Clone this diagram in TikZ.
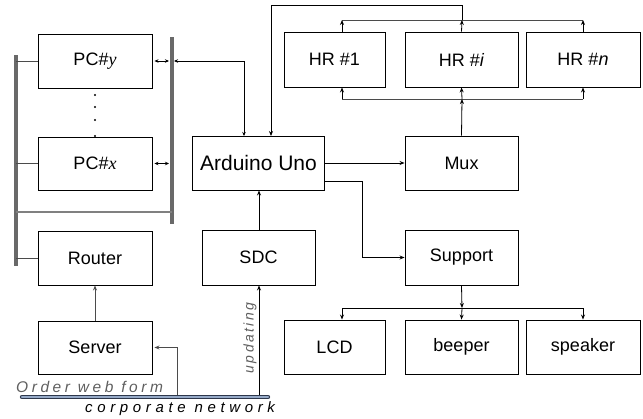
\documentclass[tikz,border=0pt]{standalone}
\usepackage{fontspec}
\setmainfont{Liberation Sans}
\newfontfamily\serifit{Liberation Serif}
\usetikzlibrary{arrows.meta}
\definecolor{busgray}{RGB}{105,105,105}
\definecolor{lngray}{RGB}{75,75,75}
\definecolor{netblue}{RGB}{150,170,200}
\definecolor{netdark}{RGB}{45,55,75}
\definecolor{txtgray}{RGB}{95,95,95}
\tikzset{
  box/.style={draw=black, line width=0.9pt, inner sep=0pt, font=\fontsize{18}{21}\selectfont},
  conn/.style={line width=0.8pt, black, -{Stealth[length=5pt,width=4pt]}},
  gconn/.style={line width=1pt, lngray, -{Stealth[length=5pt,width=4pt]}},
  dbl/.style={line width=0.8pt, black, {Stealth[length=4pt,width=3.5pt]}-{Stealth[length=4pt,width=3.5pt]}},
  bus/.style={line width=3.2pt, busgray},
  tap/.style={line width=1pt, lngray},
}
\begin{document}
\begin{tikzpicture}[x=1pt,y=-1pt]
\useasboundingbox (0,0) rectangle (643,418);

% boxes
\node[box, minimum width=114pt, minimum height=54pt] (pcy) at (95,61) {PC\#{\serifit\itshape y}};
\node[box, minimum width=114pt, minimum height=53pt] (pcx) at (95,163.5) {PC\#{\serifit\itshape x}};
\node[box, minimum width=114pt, minimum height=54pt] (router) at (95,258) {Router};
\node[box, minimum width=114pt, minimum height=53pt] (server) at (95,347.5) {Server};
\node[box, minimum width=132pt, minimum height=54pt, font=\fontsize{21}{24}\selectfont] (ard) at (258.5,163) {Arduino Uno};
\node[box, minimum width=113pt, minimum height=55pt] (sdc) at (258.5,257.5) {SDC};
\node[box, minimum width=101pt, minimum height=55pt] (hr1) at (334.5,59.5) {HR \#1};
\node[box, minimum width=113pt, minimum height=55pt] (hri) at (461.5,59.5) {HR \#\textit{i}};
\node[box, minimum width=114pt, minimum height=55pt] (hrn) at (583,59.5) {HR \#\textit{n}};
\node[box, minimum width=113pt, minimum height=54pt] (mux) at (461.5,163) {Mux};
\node[box, minimum width=113pt, minimum height=55pt] (sup) at (461.5,257.5) {Support};
\node[box, minimum width=101pt, minimum height=54pt] (lcd) at (334.5,347) {LCD};
\node[box, minimum width=113pt, minimum height=54pt] (beep) at (461.5,347) {beeper};
\node[box, minimum width=114pt, minimum height=54pt] (spk) at (583,347) {speaker};

% LAN buses
\coordinate (lbt) at (16,55);
\coordinate (lbb) at (16,266);
\coordinate (rbt) at (172,37);
\coordinate (rbb) at (172,224);
\draw[bus] (lbt) -- (lbb);
\draw[bus] (rbt) -- (rbb);
\draw[line width=1.6pt, busgray!85] (16,212) -- (172,212);
\draw[tap] (pcy.west) -- (pcy.west -| lbt);
\draw[tap] (pcx.west) -- (pcx.west -| lbt);
\draw[tap] (router.west) -- (router.west -| lbt);
\draw[dbl] ([xshift=2pt]pcy.east) -- ([xshift=-3pt]pcy.east -| rbt);
\draw[dbl] ([xshift=2pt]pcx.east) -- ([xshift=-3pt]pcx.east -| rbt);

% dots
\foreach \yy in {95,107,120,136} \fill (95,\yy) circle (1.1pt);

% Arduino <-> LAN
\coordinate (a1) at (244,136);
\coordinate (b1) at (174,61);
\draw[dbl] (a1) |- (b1);

% HR outputs to Arduino
\coordinate (a2) at (271,136);
\coordinate (t5) at (462,5);
\coordinate (t20) at (462,20);
\draw[line width=0.8pt, {Stealth[length=5pt,width=4pt]}-] (a2) |- (t5) -- (t20);
\draw[line width=1pt, lngray] (342,20) -- (583,20);
\draw[conn] (hr1.north -| 342,0) -- (342,20);
\draw[conn] (hri.north) -- (462,20);
\draw[conn] (hrn.north) -- (583,20);

% Mux to HR inputs
\draw[line width=1pt, lngray] (342,99) -- (583,99);
\draw[conn] (342,99) -- (hr1.south -| 342,0);
\draw[conn] (462,99) -- (hri.south);
\draw[conn] (583,99) -- (hrn.south);
\draw[conn] (mux.north) -- (462,99);

% Arduino to Mux and Support
\draw[conn] (ard.east) -- (mux.west);
\coordinate (a3) at (324.5,181);
\coordinate (s1) at (362,181);
\draw[conn] (a3) -- (s1) |- (sup.west);

% SDC to Arduino
\draw[conn] (sdc.north -| 259,0) -- (ard.south -| 259,0);

% Support to outputs
\coordinate (j1) at (462,308);
\draw[conn] (sup.south) -- (j1);
\draw[line width=0.8pt] (342,308) -- (583,308);
\draw[conn] (342,308) -- (lcd.north -| 342,0);
\draw[conn] (462,308) -- (beep.north);
\draw[conn] (583,308) -- (spk.north);

% Server to Router
\draw[gconn] (server.north) -- (router.south);

% corporate network
\draw[line width=4.4pt, netdark, line cap=round] (22,397) -- (268,397);
\draw[line width=2.6pt, netblue, line cap=round] (22,397) -- (268,397);
\coordinate (n1) at (177,395);
\coordinate (n2) at (259,395);
\draw[gconn] (n1) |- ([xshift=2pt]server.east);
\draw[conn] (n2) -- (sdc.south -| 259,0);

% texts
\node[anchor=base west, inner sep=0pt, text=txtgray, font=\fontsize{15.5}{18}\selectfont\itshape\addfontfeature{LetterSpace=23}] (owf) at (16,392) {Order web form};
\node[anchor=base west, inner sep=0pt, text=black, font=\fontsize{15}{18}\selectfont\itshape\addfontfeature{LetterSpace=31}] (cn) at (85,412) {corporate network};
\node[rotate=90, inner sep=0pt, text=txtgray, font=\fontsize{14}{17}\selectfont\itshape\addfontfeature{LetterSpace=17}] (upd) at (250,338) {updating};
\end{tikzpicture}
\end{document}
